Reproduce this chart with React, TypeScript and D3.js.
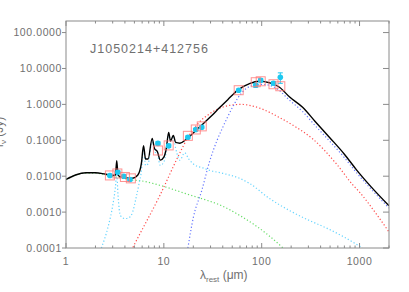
import React from "react";
import * as d3 from "d3";

// ---- data ----
const xTickMajor = [1, 10, 100, 1000];
const xTickLabels = ["1", "10", "100", "1000"];
const yTicks = [0.0001, 0.001, 0.01, 0.1, 1, 10, 100];
const yTickLabels = ["0.0001", "0.0010", "0.0100", "0.1000", "1.0000", "10.0000", "100.0000"];
const title = "J1050214+412756";

const totalLam = [1, 1.25, 1.6, 2.0, 2.5, 3.0, 3.2, 3.3, 3.4, 3.6, 4.2, 4.8, 5.4, 5.9, 6.2, 6.5, 6.9, 7.6, 8.0, 8.6, 9.2, 10.0, 10.6, 11.2, 11.7, 12.5, 13.2, 14.6, 17.2, 23, 30, 37, 45, 57, 75, 95, 120, 152, 193, 262, 350, 494, 700, 931, 1300, 2000];
const totalF = [0.0081, 0.0108, 0.0125, 0.0125, 0.0115, 0.0105, 0.0108, 0.027, 0.011, 0.0095, 0.009, 0.0088, 0.0106, 0.023, 0.071, 0.03, 0.03, 0.113, 0.06, 0.048, 0.028, 0.034, 0.06, 0.166, 0.095, 0.137, 0.087, 0.083, 0.11, 0.23, 0.45, 0.8, 1.35, 2.5, 3.8, 4.4, 4.0, 3.0, 1.6, 0.83, 0.34, 0.12, 0.041, 0.015, 0.0052, 0.0015];

const pahLam = [2.3, 2.7, 3.0, 3.2, 3.3, 3.4, 3.6, 4.0, 4.4, 4.8, 5.2, 5.6, 5.9, 6.2, 6.5, 6.9, 7.6, 8.0, 8.6, 9.2, 10.0, 10.6, 11.2, 11.7, 12.5, 13.2, 14.6, 16.3, 18, 20.7, 25, 29.5, 40, 59.5, 75, 120, 193, 300, 459, 700, 1070];
const pahF = [0.0001, 0.0004, 0.0015, 0.005, 0.012, 0.003, 0.0008, 0.00066, 0.0007, 0.001, 0.0025, 0.0065, 0.014, 0.063, 0.02, 0.022, 0.1, 0.05, 0.04, 0.02, 0.025, 0.05, 0.15, 0.08, 0.12, 0.06, 0.028, 0.045, 0.03, 0.0205, 0.017, 0.0145, 0.012, 0.0087, 0.0063, 0.0024, 0.0011, 0.0006, 0.00036, 0.0002, 0.0001];

const hotLam = [4.5, 4.8, 9.1, 14.6, 17.6, 22, 29.5, 38, 47, 62.6, 75, 100, 152, 220, 331, 580, 850, 1000, 1400, 2000];
const hotF = [0.00007, 0.0001, 0.0029, 0.045, 0.12, 0.28, 0.55, 0.8, 0.94, 1.0, 0.94, 0.75, 0.43, 0.24, 0.11, 0.022, 0.0058, 0.0036, 0.0011, 0.00028];

const coldLam = [17.6, 20, 24.4, 29.5, 35, 40, 50, 57, 70, 79, 100, 120, 141, 193, 262, 350, 494, 700, 931, 1300, 2000];
const coldF = [0.0001, 0.0007, 0.004, 0.027, 0.1, 0.23, 0.8, 1.5, 2.8, 3.3, 3.6, 3.4, 2.8, 1.3, 0.63, 0.26, 0.095, 0.033, 0.0125, 0.0045, 0.0013];

const starLam = [1, 1.25, 1.6, 2.0, 2.5, 3.0, 3.6, 4.2, 4.7, 5.7, 7.7, 11.5, 15, 20, 28, 37, 60, 112, 165, 200];
const starF = [0.008, 0.0106, 0.0122, 0.0121, 0.011, 0.0099, 0.009, 0.0083, 0.0078, 0.0075, 0.0063, 0.0046, 0.0036, 0.0028, 0.0021, 0.0016, 0.0008, 0.00025, 0.0001, 0.00006];

const obsLam = [2.81, 3.39, 3.9, 4.5, 8.7, 11.2, 17.6, 21.2, 24.4, 58.2, 86.9, 97.7, 132, 155];
const obsF = [0.0105, 0.0129, 0.01, 0.0081, 0.082, 0.07, 0.121, 0.2, 0.23, 2.48, 3.4, 4.7, 3.87, 5.7];
const obsErr = [0.0008, 0.001, 0.0008, 0.0007, 0.008, 0.007, 0.01, 0.015, 0.02, 0.2, 0.4, 0.5, 0.4, 1.85];
const modelLam = [2.81, 3.35, 4.0, 4.6, 8.7, 11.2, 17.6, 21.2, 24.4, 58.2, 86.9, 97.7, 132, 155];
const modelF = [0.0105, 0.0119, 0.0095, 0.0087, 0.052, 0.072, 0.133, 0.2, 0.244, 2.48, 4.14, 4.4, 3.64, 3.2];

// ---- layout ----
const W = 409;
const H = 292;
const L = 66, R = 389, T = 21, B = 248;

const x = d3.scaleLog().domain([1, 2000]).range([L, R]);
const y = d3.scaleLog().domain([1e-4, 210]).range([B, T]);

const zip = (a: number[], b: number[]) => a.map((v, i) => [v, b[i]] as [number, number]);
const line = d3
  .line<[number, number]>()
  .x((d) => x(d[0]))
  .y((d) => y(d[1]))
  .curve(d3.curveMonotoneX);

const minorTicks: number[] = [];
[1, 10, 100, 1000].forEach((dec) => {
  for (let k = 2; k <= 9; k++) {
    const v = dec * k;
    if (v <= 2000) minorTicks.push(v);
  }
});

const axisColor = "#8a8a8a";
const textColor = "#707070";
const font = "'Liberation Sans', Arial, sans-serif";

export default function App() {
  const dotted = { fill: "none", strokeWidth: 1.2, strokeDasharray: "1.2 2.2" };
  return (
    <svg
      width={W}
      height={H}
      style={{ position: "fixed", left: 0, top: 0, background: "#fff" }}
      fontFamily={font}
    >
      <defs>
        <clipPath id="plotClip">
          <rect x={L} y={T} width={R - L} height={B - T} />
        </clipPath>
      </defs>

      <g clipPath="url(#plotClip)">
        <path d={line(zip(starLam, starF)) || ""} stroke="#66dd66" {...dotted} />
        <path d={line(zip(pahLam, pahF)) || ""} stroke="#66d4ff" {...dotted} />
        <path d={line(zip(hotLam, hotF)) || ""} stroke="#ff4a4a" {...dotted} />
        <path d={line(zip(coldLam, coldF)) || ""} stroke="#6677ff" {...dotted} />
        <path d={line(zip(totalLam, totalF)) || ""} stroke="#000" fill="none" strokeWidth={1.4} />

        {obsLam.map((l, i) => (
          <g key={"e" + i} stroke="#1ec8f0" strokeWidth={1}>
            <line x1={x(l)} x2={x(l)} y1={y(obsF[i] + obsErr[i])} y2={y(obsF[i] - obsErr[i])} />
            <line x1={x(l) - 2.5} x2={x(l) + 2.5} y1={y(obsF[i] + obsErr[i])} y2={y(obsF[i] + obsErr[i])} />
            <line x1={x(l) - 2.5} x2={x(l) + 2.5} y1={y(obsF[i] - obsErr[i])} y2={y(obsF[i] - obsErr[i])} />
          </g>
        ))}
        {obsLam.map((l, i) => (
          <circle key={"c" + i} cx={x(l)} cy={y(obsF[i])} r={2.8} fill="#1ec8f0" />
        ))}
        {modelLam.map((l, i) => (
          <rect
            key={"m" + i}
            x={x(l) - 4.5}
            y={y(modelF[i]) - 4.5}
            width={9}
            height={9}
            fill="none"
            stroke="#ff7777"
            strokeOpacity={0.8}
            strokeWidth={1}
          />
        ))}
      </g>

      {/* frame */}
      <rect x={L} y={T} width={R - L} height={B - T} fill="none" stroke={axisColor} strokeWidth={1} />

      {/* x ticks */}
      {xTickMajor.map((v, i) => (
        <g key={"xt" + i}>
          <line x1={x(v)} x2={x(v)} y1={B} y2={B - 5} stroke={axisColor} />
          <line x1={x(v)} x2={x(v)} y1={T} y2={T + 5} stroke={axisColor} />
          <text x={x(v)} y={265} textAnchor="middle" fontSize={10.5} fill={textColor} letterSpacing={0.6}>
            {xTickLabels[i]}
          </text>
        </g>
      ))}
      {minorTicks.map((v, i) => (
        <g key={"mt" + i}>
          <line x1={x(v)} x2={x(v)} y1={B} y2={B - 2.5} stroke={axisColor} />
          <line x1={x(v)} x2={x(v)} y1={T} y2={T + 2.5} stroke={axisColor} />
        </g>
      ))}

      {/* y ticks */}
      {yTicks.map((v, i) => (
        <g key={"yt" + i}>
          <line x1={L - 4} x2={L} y1={y(v)} y2={y(v)} stroke={axisColor} />
          <line x1={R - 6} x2={R} y1={y(v)} y2={y(v)} stroke={axisColor} />
          <text x={62} y={y(v) + 3.8} textAnchor="end" fontSize={10.5} fill={textColor} letterSpacing={0.6}>
            {yTickLabels[i]}
          </text>
        </g>
      ))}

      {/* title */}
      <text x={90} y={53} fontSize={12.5} fill={textColor} letterSpacing={1}>
        {title}
      </text>

      {/* x label */}
      <text x={200} y={279} fontSize={12} fill={textColor}>
        λ<tspan fontSize={8} dy={3}>rest</tspan>
        <tspan dy={-3}> (μm)</tspan>
      </text>

      {/* y label (partly cut at the left edge, as in the reference) */}
      <text transform="translate(3,132) rotate(-90)" textAnchor="middle" fontSize={12} fill={textColor}>
        f<tspan fontSize={8} dy={3}>ν</tspan>
        <tspan dy={-3}> (Jy)</tspan>
      </text>
    </svg>
  );
}
